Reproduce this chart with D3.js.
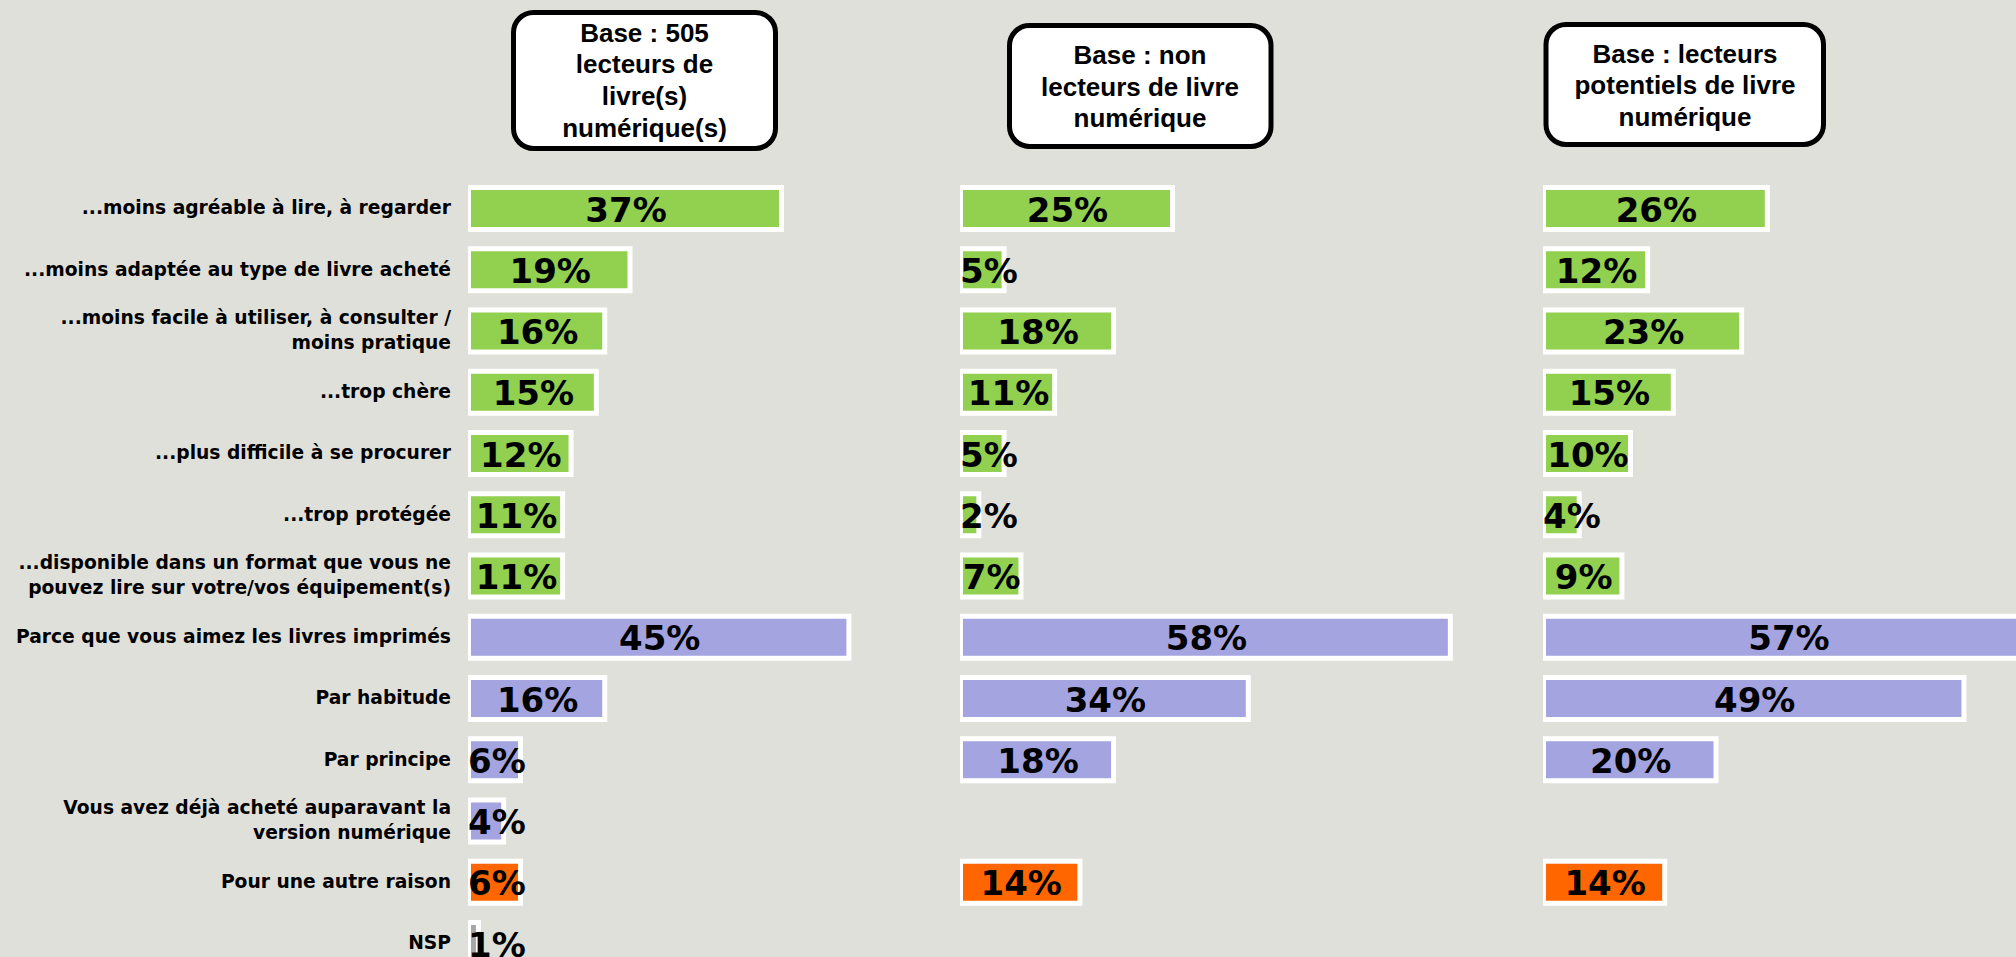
<!DOCTYPE html>
<html>
<head>
<meta charset="utf-8">
<script src="https://cdn.jsdelivr.net/npm/d3@7"></script>
<style>
  html, body { margin: 0; padding: 0; background: #e0e0da; overflow: hidden; }
  svg { display: block; }
</style>
</head>
<body>
<svg id="chart" width="2016" height="957"></svg>
<script>
// ---- data ----
const categories = [
  "...moins agréable à lire, à regarder",
  "...moins adaptée au type de livre acheté",
  "...moins facile à utiliser, à consulter /\nmoins pratique",
  "...trop chère",
  "...plus difficile à se procurer",
  "...trop protégée",
  "...disponible dans un format que vous ne\npouvez lire sur votre/vos équipement(s)",
  "Parce que vous aimez les livres imprimés",
  "Par habitude",
  "Par principe",
  "Vous avez déjà acheté auparavant la\nversion numérique",
  "Pour une autre raison",
  "NSP"
];
const groups = ["num","num","num","num","num","num","num","print","print","print","print","other","nsp"];
const headers1 = ["Base : 505", "lecteurs de", "livre(s)", "numérique(s)"];
const headers2 = ["Base : non", "lecteurs de livre", "numérique"];
const headers3 = ["Base : lecteurs", "potentiels de livre", "numérique"];
const values1 = [37, 19, 16, 15, 12, 11, 11, 45, 16, 6, 4, 6, 1];
const values2 = [25, 5, 18, 11, 5, 2, 7, 58, 34, 18, null, 14, null];
const values3 = [26, 12, 23, 15, 10, 4, 9, 57, 49, 20, null, 14, null];

// ---- styles ----
const colorMap = { num: "#92d050", print: "#a4a4e0", other: "#ff6600", nsp: "#a6a6a6" };
const svg = d3.select("#chart");

const y = d3.scalePoint().domain(categories).range([208.5, 943.5]);

const columns = [
  { values: values1, header: headers1, x: d3.scaleLinear().domain([0, 100]).range([468, 468 + 842]),
    box: { x: 513.5, y: 12.5, w: 262, h: 136 }, hx: 644.5, hy: 41.7 },
  { values: values2, header: headers2, x: d3.scaleLinear().domain([0, 100]).range([960, 960 + 842]),
    box: { x: 1009.5, y: 25.5, w: 261.5, h: 121 }, hx: 1140, hy: 64 },
  { values: values3, header: headers3, x: d3.scaleLinear().domain([0, 100]).range([1543, 1543 + 855]),
    box: { x: 1546, y: 24.5, w: 277.5, h: 120 }, hx: 1685, hy: 62.7 }
];

// row labels
const lab = svg.append("g")
  .attr("font-family", "'DejaVu Sans', Verdana, sans-serif")
  .attr("font-weight", "bold")
  .attr("font-size", "18.7px")
  .attr("fill", "#000")
  .attr("text-anchor", "end");
categories.forEach(c => {
  const lines = c.split("\n");
  const lh = 25;
  const base = y(c) + 5.8 - (lines.length - 1) * lh / 2;
  const t = lab.append("text");
  lines.forEach((ln, i) => {
    t.append("tspan").attr("x", 451).attr("y", base + i * lh).text(ln);
  });
});

// headers
columns.forEach(col => {
  const g = svg.append("g");
  g.append("rect")
    .attr("x", col.box.x).attr("y", col.box.y)
    .attr("width", col.box.w).attr("height", col.box.h)
    .attr("rx", 20).attr("ry", 20)
    .attr("fill", "#fff").attr("stroke", "#000").attr("stroke-width", 5);
  const t = g.append("text")
    .attr("font-family", "'Liberation Sans', Arial, sans-serif")
    .attr("font-weight", "bold")
    .attr("font-size", "26px")
    .attr("text-anchor", "middle")
    .attr("fill", "#000");
  col.header.forEach((ln, i) => {
    t.append("tspan").attr("x", col.hx).attr("y", col.hy + i * 31.6).text(ln);
  });
});

// bars
columns.forEach(col => {
  const x = col.x;
  const data = categories.map((c, i) => ({ c, v: col.values[i], g: groups[i] }))
    .filter(d => d.v !== null);
  const g = svg.append("g");
  const bar = g.selectAll("g.bar").data(data).enter().append("g").attr("class", "bar");
  bar.append("rect")
    .attr("x", x(0))
    .attr("y", d => y(d.c) - 23.5)
    .attr("width", d => x(d.v) - x(0) + 4.5)
    .attr("height", 47)
    .attr("fill", "#fff");
  bar.append("rect")
    .attr("x", x(0) + 3)
    .attr("y", d => y(d.c) - 18.5)
    .attr("width", d => Math.max(1.5, x(d.v) - x(0) - 3.5))
    .attr("height", 37)
    .attr("fill", d => colorMap[d.g]);
  bar.append("text")
    .attr("font-family", "'DejaVu Sans', Verdana, sans-serif")
    .attr("font-weight", "bold")
    .attr("font-size", "34px")
    .attr("fill", "#000")
    .attr("y", d => y(d.c) + 13)
    .text(d => d.v + "%")
    .each(function (d) {
      const tw = this.getComputedTextLength();
      const bw = x(d.v) - x(0) + 4.5;
      const sel = d3.select(this);
      if (tw > bw) {
        sel.attr("text-anchor", "start").attr("x", x(0));
      } else {
        sel.attr("text-anchor", "middle").attr("x", x(0) + bw / 2);
      }
    });
});
</script>
</body>
</html>
